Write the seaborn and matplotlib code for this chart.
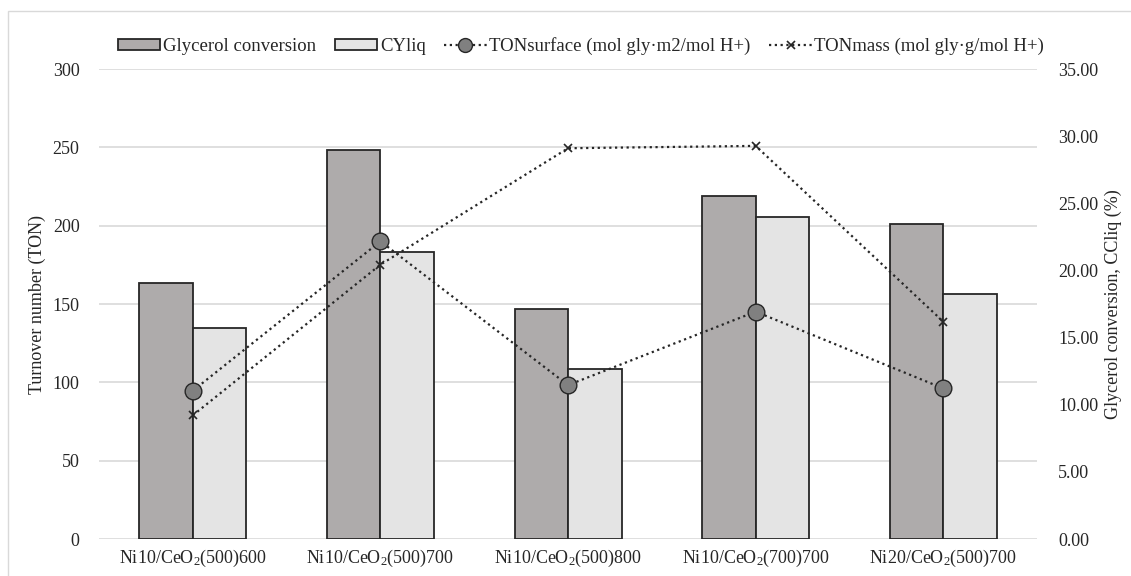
import numpy as np
import pandas as pd
import matplotlib
matplotlib.use("Agg")
import matplotlib.pyplot as plt
import seaborn as sns
from matplotlib.lines import Line2D
from matplotlib.patches import Patch, Rectangle
from matplotlib.ticker import FormatStrFormatter

# ---- data ----
catalysts = [
    "Ni10/CeO$_2$(500)600",
    "Ni10/CeO$_2$(500)700",
    "Ni10/CeO$_2$(500)800",
    "Ni10/CeO$_2$(700)700",
    "Ni20/CeO$_2$(500)700",
]
glycerol_conversion = [19.10, 29.00, 17.14, 25.53, 23.49]   # % (right axis)
cy_liq = [15.72, 21.41, 12.67, 24.01, 18.24]                # % (right axis)
ton_surface = [94.7, 190.1, 98.3, 145.2, 96.2]              # TON (left axis)
ton_mass = [79.0, 175.2, 249.5, 251.0, 138.8]               # TON (left axis)

bar_labels = ["Glycerol conversion", "CYliq"]
line_labels = ["TONsurface (mol gly·m2/mol H+)", "TONmass (mol gly·g/mol H+)"]
left_ticks = [0, 50, 100, 150, 200, 250, 300]
right_ticks = [0, 5, 10, 15, 20, 25, 30, 35]

df_bars = pd.DataFrame({
    "catalyst": catalysts * 2,
    "value": glycerol_conversion + cy_liq,
    "series": [bar_labels[0]] * 5 + [bar_labels[1]] * 5,
})

# ---- style ----
sns.set_theme(style="white")
plt.rcParams["font.family"] = ["Liberation Serif", "DejaVu Serif"]
plt.rcParams["mathtext.fontset"] = "custom"
plt.rcParams["mathtext.rm"] = "Liberation Serif"
plt.rcParams["mathtext.it"] = "Liberation Serif:italic"
plt.rcParams["mathtext.default"] = "rm"

FS = 13
LFS = 13.5
text_col = "#262626"
edge_col = "#262626"
bar_cols = ["#aeaaaa", "#e4e4e4"]

fig = plt.figure(figsize=(11.31, 5.76), dpi=100)
ax = fig.add_axes([0.0875, 0.064, 0.8295, 0.816])
ax2 = ax.twinx()   # bars, right axis
ax3 = ax.twinx()   # lines, same scale as left axis

# bars
sns.barplot(data=df_bars, x="catalyst", y="value", hue="series",
            palette=bar_cols, edgecolor=edge_col, linewidth=1.3,
            width=0.57, gap=0, ax=ax2, legend=False, errorbar=None)

# lines
dot = (0, (1, 1.6))
sns.pointplot(x=catalysts, y=ton_surface, ax=ax3, color=edge_col,
              errorbar=None)
sns.pointplot(x=catalysts, y=ton_mass, ax=ax3, color=edge_col,
              errorbar=None)
l_surf, l_mass = ax3.lines[-2], ax3.lines[-1]
l_surf.set(linestyle=dot, linewidth=1.6, marker="o", markersize=12,
           markerfacecolor="#808080", markeredgecolor=edge_col,
           markeredgewidth=1.0, color=edge_col)
l_mass.set(linestyle=dot, linewidth=1.6, marker="x", markersize=6,
           markerfacecolor=edge_col, markeredgecolor=edge_col,
           markeredgewidth=1.2, color=edge_col)

# axes scales
ax.set_ylim(0, 300)
ax3.set_ylim(0, 300)
ax2.set_ylim(0, 35)
ax.set_yticks(left_ticks)
ax2.set_yticks(right_ticks)
ax2.yaxis.set_major_formatter(FormatStrFormatter("%.2f"))
ax3.set_yticks([])
ax.set_xlim(-0.5, len(catalysts) - 0.5)
ax.set_xticks(range(len(catalysts)))
ax.set_xticklabels(catalysts)

ax.grid(axis="y", color="#d9d9d9", linewidth=1.2)
ax.grid(axis="x", visible=False)
ax.set_axisbelow(True)

for a in (ax, ax2, ax3):
    for s in a.spines.values():
        s.set_visible(False)
    a.set_xlabel("")
    a.set_ylabel("")
ax.tick_params(axis="both", length=0, labelsize=FS, labelcolor=text_col)
ax.tick_params(axis="y", pad=14)
ax.tick_params(axis="x", pad=6)
ax2.tick_params(axis="y", length=0, labelsize=FS, labelcolor=text_col, pad=15)

ax.set_ylabel("Turnover number (TON)", fontsize=FS, color=text_col, labelpad=5)
ax2.set_ylabel("Glycerol conversion, CCliq (%)", fontsize=FS, color=text_col, labelpad=5)

# legend
handles = [
    Patch(facecolor=bar_cols[0], edgecolor=edge_col, linewidth=1.3),
    Patch(facecolor=bar_cols[1], edgecolor=edge_col, linewidth=1.3),
    Line2D([], [], linestyle=dot, linewidth=1.6, color=edge_col, marker="o",
           markersize=10, markerfacecolor="#808080", markeredgecolor=edge_col),
    Line2D([], [], linestyle=dot, linewidth=1.6, color=edge_col, marker="x",
           markersize=6, markeredgewidth=1.2),
]
leg = fig.legend(handles, bar_labels + line_labels, loc="center left",
                 bbox_to_anchor=(0.1043, 0.92), ncol=4, frameon=False,
                 borderpad=0, borderaxespad=0, fontsize=LFS,
                 handlelength=2.25, handleheight=0.55,
                 columnspacing=1.0, handletextpad=0.15)
for t in leg.get_texts():
    t.set_color(text_col)

# chart border
fig.patches.append(Rectangle((0.007, -0.01), 1.1, 0.991, transform=fig.transFigure,
                             fill=False, edgecolor="#d9d9d9", linewidth=1.0))

fig.savefig("out.png", dpi=100)
